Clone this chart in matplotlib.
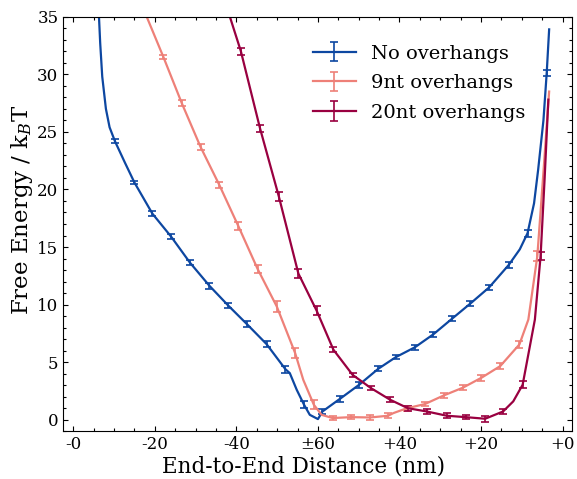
import numpy as np
import matplotlib
matplotlib.use('Agg')
import matplotlib.pyplot as plt
from matplotlib.ticker import MultipleLocator

# %%
# x in plot units (0..120), err = 0 means line point only (no error bar)
x_none = [6.3, 6.6, 7.1, 8.0, 8.9, 10.2, 12.7, 15.0, 19.4, 24.0, 28.6, 33.4, 38.0, 42.6, 47.4,
          52.0, 53.1, 54.8, 56.6, 58.0, 60.0, 61.1, 65.4, 70.1, 74.8, 79.1, 83.8, 88.3,
          92.9, 97.4, 102.0, 106.8, 109.5, 111.4, 113.0, 114.0, 115.3, 116.1, 116.7]
y_none = [35.0, 32.7, 29.8, 27.0, 25.4, 24.2, 22.3, 20.6, 17.9, 15.9, 13.65, 11.63, 9.92, 8.3, 6.57,
          4.4, 4.05, 2.6, 1.3, 0.43, 0.06, 0.72, 1.82, 3.04, 4.43, 5.44, 6.3, 7.42,
          8.78, 10.1, 11.5, 13.45, 14.8, 16.2, 18.8, 21.7, 26.0, 30.1, 33.9]
e_none = [0, 0, 0, 0, 0, 0.15, 0, 0.15, 0.2, 0.2, 0.25, 0.25, 0.25, 0.25, 0.25,
          0.3, 0, 0, 0.3, 0, 0, 0.25, 0.25, 0.25, 0.2, 0.2, 0.2, 0.2,
          0.2, 0.2, 0.2, 0.25, 0, 0.3, 0, 0, 0, 0.26, 0]

x_9nt = [18.0, 22.1, 26.6, 31.2, 35.8, 40.5, 45.2, 49.9, 54.4, 56.4, 59.0, 60.9, 63.6,
         68.1, 72.8, 77.2, 78.5, 81.8, 86.2, 90.9, 95.5, 100.1, 104.7, 109.4, 111.6,
         113.8, 115.3, 116.7]
y_9nt = [35.0, 31.5, 27.5, 23.7, 20.4, 16.8, 13.1, 9.84, 5.8, 3.47, 1.3, 0.43, 0.15,
         0.23, 0.2, 0.35, 0.58, 1.0, 1.36, 2.12, 2.78, 3.65, 4.66, 6.54, 8.7,
         14.2, 21.5, 28.5]
e_9nt = [0, 0.17, 0.23, 0.26, 0.27, 0.36, 0.36, 0.5, 0.46, 0, 0.4, 0, 0.2,
         0.2, 0.2, 0.2, 0, 0.2, 0.2, 0.2, 0.2, 0.25, 0.25, 0.29, 0,
         0.43, 0, 0]

x_20nt = [38.4, 41.1, 45.8, 50.4, 55.2, 59.7, 63.8, 68.5, 73.0, 77.7, 82.1, 86.7,
          91.6, 96.2, 101.0, 105.4, 107.9, 110.2, 113.2, 114.6, 115.6, 116.5]
y_20nt = [35.0, 32.0, 25.3, 19.4, 12.7, 9.46, 6.08, 3.9, 2.75, 1.74, 1.0, 0.72,
          0.35, 0.23, 0.09, 0.72, 1.6, 3.04, 8.7, 14.2, 21.0, 27.8]
e_20nt = [0, 0.29, 0.32, 0.36, 0.36, 0.4, 0.2, 0.2, 0.2, 0.2, 0.2, 0.2,
          0.2, 0.2, 0.25, 0.25, 0, 0.32, 0, 0.36, 0, 0]

tick_pos = [0, 20, 40, 60, 80, 100, 120]
tick_lab = ['-0', '-20', '-40', '\u00b160', '+40', '+20', '+0']

# %%
plt.rcParams['font.family'] = 'DejaVu Serif'
plt.rcParams['mathtext.fontset'] = 'dejavuserif'
plt.rcParams['xtick.direction'] = 'in'
plt.rcParams['ytick.direction'] = 'in'
plt.rcParams['xtick.top'] = True
plt.rcParams['ytick.right'] = True

fig = plt.figure(figsize=(5.77, 4.79), dpi=100)
ax = fig.add_axes([0.1097, 0.0996, 0.8816, 0.8655])

series = [(x_none, y_none, e_none, '#0D47A1', 'No overhangs'),
          (x_9nt, y_9nt, e_9nt, '#EE8078', '9nt overhangs'),
          (x_20nt, y_20nt, e_20nt, '#990040', '20nt overhangs')]

for xs, ys, es, col, lab in series:
    es = np.array(es)
    ax.errorbar(xs, ys, yerr=es, errorevery=list(es > 0), color=col, lw=1.6,
                elinewidth=1.2, capsize=3, capthick=1.2, label=lab)

ax.set_xlim(-2.45, 122.3)
ax.set_ylim(-1, 35)
ax.set_xticks(tick_pos)
ax.set_xticklabels(tick_lab)
ax.xaxis.set_minor_locator(MultipleLocator(5))
ax.yaxis.set_minor_locator(MultipleLocator(1))
ax.tick_params(which='major', length=3.5, width=0.8, labelsize=12)
ax.tick_params(which='minor', length=2, width=0.8)

ax.set_xlabel('End-to-End Distance (nm)', fontsize=15.5)
ax.set_ylabel('Free Energy / k$_B$T', fontsize=16.5)
ax.xaxis.set_label_coords(0.473, -0.058)
ax.yaxis.set_label_coords(-0.056, 0.535)
ax.legend(loc='upper right', bbox_to_anchor=(0.943, 0.975), frameon=False, fontsize=14,
          handlelength=2.2, labelspacing=0.6)

plt.savefig('out.png', dpi=100)
